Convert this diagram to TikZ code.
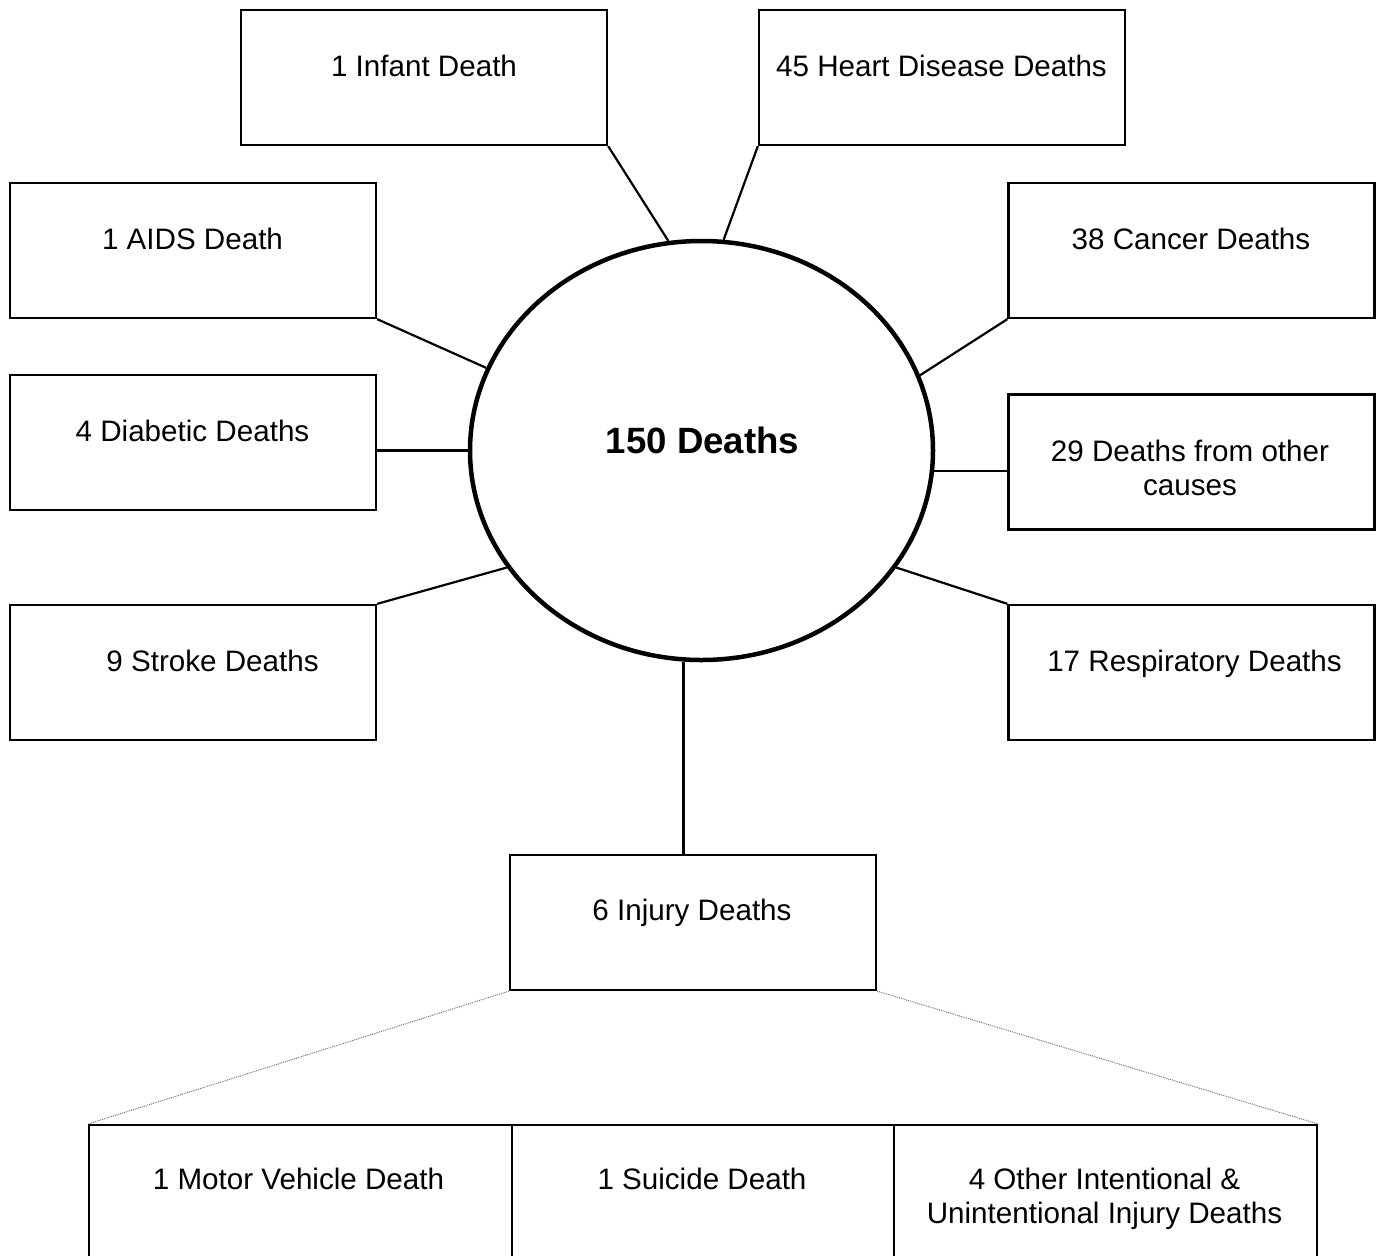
\documentclass[tikz,border=0pt]{standalone}
\usepackage{fontspec}
\setmainfont{Liberation Sans}
\usetikzlibrary{shapes.geometric}
\begin{document}
\begin{tikzpicture}[x=1pt,y=-1pt,
  box/.style={draw,line width=2.3pt,rectangle,inner sep=0pt,minimum width=366pt,minimum height=135pt},
  lowbox/.style={draw,line width=2.3pt,rectangle,inner sep=0pt,minimum height=200pt},
  txt/.style={anchor=base,inner sep=0pt,align=center,font=\fontsize{29.6pt}{34pt}\selectfont},
  conn/.style={line width=2.2pt},
  dotconn/.style={line width=0.9pt,densely dotted,black!60}]
\clip (0,0) rectangle (1380,1255);
\fill[white] (0,0) rectangle (1380,1255);
% centre
\node[ellipse,draw,line width=4.5pt,inner sep=0pt,minimum width=463pt,minimum height=419pt] (c) at (701.5,450.5) {};
\node[anchor=base,inner sep=0pt,font=\fontsize{36.6pt}{40pt}\selectfont\bfseries] (ct) at (702.5,453) {150 Deaths};
% boxes
\node[box] (inf) at (424,77.5) {};
\node[txt] (inft) at (424,76.6) {1 Infant Death};
\node[box] (hrt) at (942,77.5) {};
\node[txt] (hrtt) at (941.5,76.6) {45 Heart Disease Deaths};
\node[box] (aid) at (193,250.5) {};
\node[txt] (aidt) at (192.5,249.6) {1 AIDS Death};
\node[box] (can) at (1191.5,250.5) {};
\node[txt] (cant) at (1191,249.6) {38 Cancer Deaths};
\node[box] (dia) at (193,442.5) {};
\node[txt] (diat) at (192.5,441.6) {4 Diabetic Deaths};
\node[box] (oth) at (1191.5,462) {};
\node[txt] (otht) at (1190,495.6) {29 Deaths from other\\causes};
\node[box] (str) at (193,672.5) {};
\node[txt] (strt) at (212.5,671.6) {9 Stroke Deaths};
\node[box] (res) at (1191.5,672.5) {};
\node[txt] (rest) at (1194.5,671.6) {17 Respiratory Deaths};
\node[box] (inj) at (693,922.5) {};
\node[txt] (injt) at (692,920.6) {6 Injury Deaths};
% bottom row
\node[lowbox,minimum width=423pt,anchor=north west] (mv) at (88,1124) {};
\node[txt] (mvt) at (298.5,1189.6) {1 Motor Vehicle Death};
\node[lowbox,minimum width=382pt,anchor=north west] (sui) at (511,1124) {};
\node[txt] (suit) at (702,1189.6) {1 Suicide Death};
\node[lowbox,minimum width=423pt,anchor=north west] (oi) at (893,1124) {};
\node[txt] (oit) at (1104.5,1223.6) {4 Other Intentional \&\\Unintentional Injury Deaths};
% connectors
\draw[conn] (inf.south east) -- (c.99.9);
\draw[conn] (hrt.south west) -- (c.84.4);
\draw[conn] (aid.south east) -- (c.159.9);
\draw[conn] (can.south west) -- (c.19.9);
\draw[conn] (c.180.4) -- (c.180.4 -| dia.east);
\draw[conn] (c.-5.1) -- (c.-5.1 -| oth.west);
\draw[conn] (str.north east) -- (c.211.4);
\draw[conn] (res.north west) -- (c.-31.1);
\draw[line width=3pt] (c.265.3) -- (c.265.3 |- inj.north);
\draw[dotconn] (inj.south west) -- (mv.north west);
\draw[dotconn] (inj.south east) -- (oi.north east);
\end{tikzpicture}
\end{document}
